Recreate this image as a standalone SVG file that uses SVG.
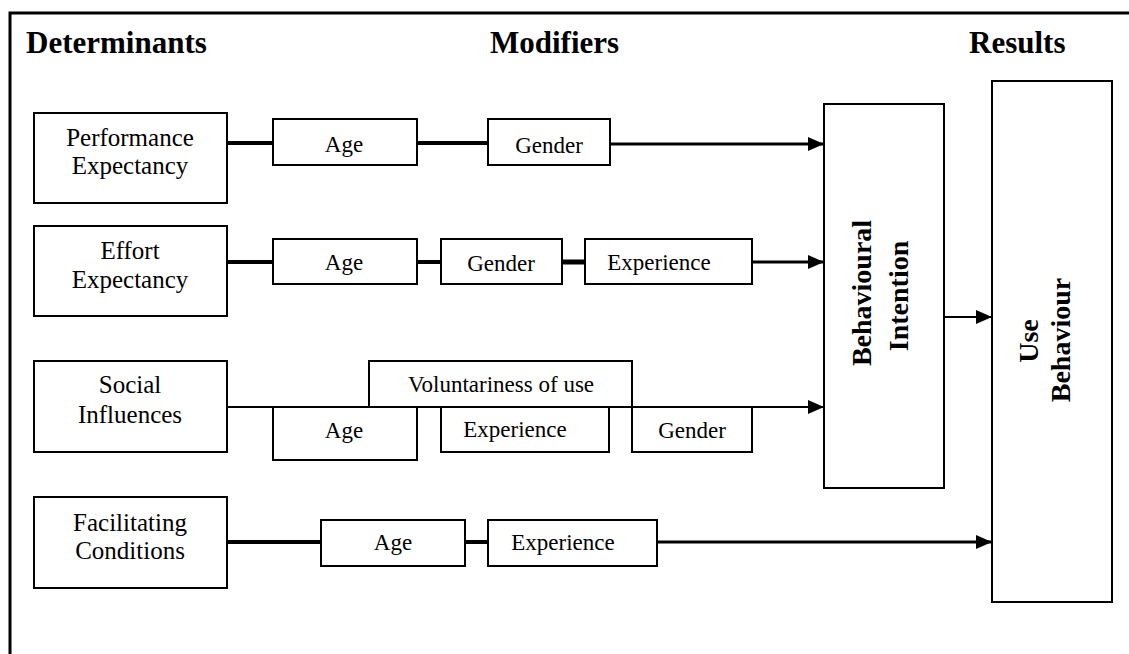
<svg xmlns="http://www.w3.org/2000/svg" width="1129" height="654" viewBox="0 0 1129 654">
<style>
.box{fill:#fff;stroke:#000;stroke-width:2}
.hd{font-family:"Liberation Serif",serif;font-weight:bold;font-size:31px;fill:#000}
.det{font-family:"Liberation Serif",serif;font-size:25px;fill:#000;text-anchor:middle}
.mod{font-family:"Liberation Serif",serif;font-size:23px;fill:#000;text-anchor:middle}
.res{font-family:"Liberation Serif",serif;font-weight:bold;font-size:28px;fill:#000;text-anchor:middle}
.ln{stroke:#000;fill:none}
</style>
<defs>
<marker id="ah" markerUnits="userSpaceOnUse" markerWidth="16" markerHeight="14" refX="16" refY="7" orient="auto">
<path d="M0,0 L16,7 L0,14 Z" fill="#000"/>
</marker>
</defs>
<rect width="1129" height="654" fill="#fff"/>
<path d="M10,654 V13 H1129" class="ln" stroke-width="3"/>
<text class="hd" x="26" y="53">Determinants</text>
<text class="hd" x="490" y="53">Modifiers</text>
<text class="hd" x="969" y="53">Results</text>

<g id="connectors">
<line class="ln" x1="227" y1="143" x2="273" y2="143" stroke-width="4"/>
<line class="ln" x1="417" y1="143" x2="488" y2="143" stroke-width="4"/>
<line class="ln" x1="610" y1="144" x2="824" y2="144" stroke-width="3" marker-end="url(#ah)"/>
<line class="ln" x1="227" y1="262" x2="273" y2="262" stroke-width="4"/>
<line class="ln" x1="417" y1="262" x2="441" y2="262" stroke-width="4"/>
<line class="ln" x1="562" y1="262" x2="585" y2="262" stroke-width="5"/>
<line class="ln" x1="752" y1="262" x2="824" y2="262" stroke-width="3" marker-end="url(#ah)"/>
<line class="ln" x1="227" y1="407" x2="824" y2="407" stroke-width="2" marker-end="url(#ah)"/>
<line class="ln" x1="227" y1="542" x2="321" y2="542" stroke-width="4"/>
<line class="ln" x1="465" y1="542" x2="488" y2="542" stroke-width="4"/>
<line class="ln" x1="657" y1="542" x2="992" y2="542" stroke-width="3" marker-end="url(#ah)"/>
<line class="ln" x1="944" y1="317" x2="992" y2="317" stroke-width="2" marker-end="url(#ah)"/>
</g>

<g id="pe"><rect class="box" x="34" y="113" width="193" height="90"/>
<text class="det" x="130" y="146">Performance</text><text class="det" x="130" y="174">Expectancy</text></g>
<g id="ee"><rect class="box" x="34" y="226" width="193" height="90"/>
<text class="det" x="130" y="259">Effort</text><text class="det" x="130" y="288">Expectancy</text></g>
<g id="si"><rect class="box" x="34" y="361" width="193" height="91"/>
<text class="det" x="130" y="393">Social</text><text class="det" x="130" y="423">Influences</text></g>
<g id="fc"><rect class="box" x="34" y="497" width="193" height="91"/>
<text class="det" x="130" y="531">Facilitating</text><text class="det" x="130" y="559">Conditions</text></g>

<g id="age1"><rect class="box" x="273" y="119" width="144" height="46"/><text class="mod" x="344" y="152">Age</text></g>
<g id="gender1"><rect class="box" x="488" y="119" width="122" height="46"/><text class="mod" x="549" y="153">Gender</text></g>

<g id="age2"><rect class="box" x="273" y="239" width="144" height="45"/><text class="mod" x="344" y="270">Age</text></g>
<g id="gender2"><rect class="box" x="441" y="239" width="121" height="45"/><text class="mod" x="501" y="271">Gender</text></g>
<g id="exp2"><rect class="box" x="585" y="239" width="167" height="45"/><text class="mod" x="659" y="270">Experience</text></g>

<g id="vol"><rect class="box" x="369" y="361" width="263" height="46"/><text class="mod" x="501" y="392">Voluntariness of use</text></g>
<g id="age3"><rect class="box" x="273" y="407" width="144" height="53"/><text class="mod" x="344" y="438">Age</text></g>
<g id="exp3"><rect class="box" x="441" y="407" width="168" height="45"/><text class="mod" x="515" y="437">Experience</text></g>
<g id="gender3"><rect class="box" x="632" y="407" width="120" height="45"/><text class="mod" x="692" y="438">Gender</text></g>

<g id="age4"><rect class="box" x="321" y="520" width="144" height="46"/><text class="mod" x="393" y="550">Age</text></g>
<g id="exp4"><rect class="box" x="488" y="520" width="169" height="46"/><text class="mod" x="563" y="550">Experience</text></g>

<g id="bi"><rect class="box" x="824" y="104" width="120" height="384"/>
<text class="res" transform="translate(871,293) rotate(-90)">Behavioural</text>
<text class="res" transform="translate(908,296) rotate(-90)">Intention</text></g>
<g id="ub"><rect class="box" x="992" y="81" width="120" height="521"/>
<text class="res" transform="translate(1038,341) rotate(-90)">Use</text>
<text class="res" transform="translate(1070,340) rotate(-90)">Behaviour</text></g>
</svg>
